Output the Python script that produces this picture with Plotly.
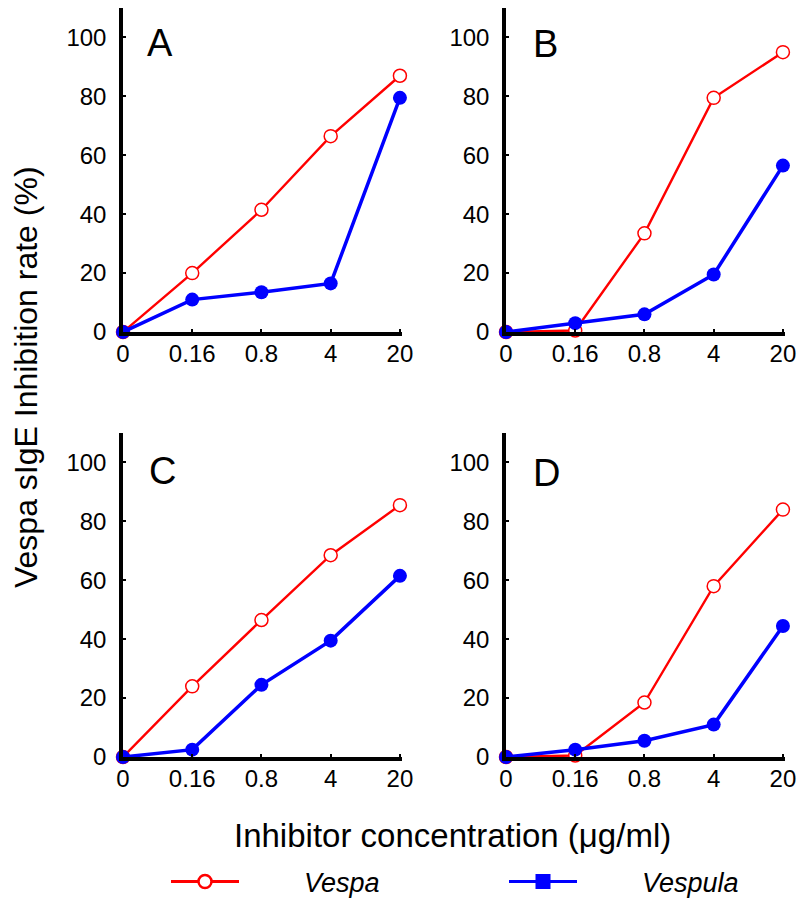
import plotly.graph_objects as go

concentrations = ["0", "0.16", "0.8", "4", "20"]
panels = ["A", "B", "C", "D"]

vespa_A = [0, 20, 41.5, 66.5, 87]
vespula_A = [0, 11, 13.5, 16.5, 79.5]
vespa_B = [0, 0.5, 33.5, 79.5, 95]
vespula_B = [0, 3, 6, 19.5, 56.5]
vespa_C = [0, 24, 46.5, 68.5, 85.5]
vespula_C = [0, 2.5, 24.5, 39.5, 61.5]
vespa_D = [0, 0.5, 18.5, 58, 84]
vespula_D = [0, 2.5, 5.5, 11, 44.5]

vespa = {"A": vespa_A, "B": vespa_B, "C": vespa_C, "D": vespa_D}
vespula = {"A": vespula_A, "B": vespula_B, "C": vespula_C, "D": vespula_D}

yticks = [0, 20, 40, 60, 80, 100]

W, H = 803, 901
RED = "#ff0000"
BLUE = "#0000ff"
TICKFONT = dict(family="Liberation Sans, Arial, sans-serif", size=24, color="black")

# panel geometry in pixels (left, right, top, bottom)
geom = {
    "A": (123, 402, 8, 332),
    "B": (506, 785, 8, 332),
    "C": (123, 402, 433, 757),
    "D": (506, 785, 433, 757),
}

fig = go.Figure()
layout = dict()
xidx = list(range(len(concentrations)))

for i, p in enumerate(panels):
    n = "" if i == 0 else str(i + 1)
    xa, ya = "x" + n, "y" + n
    l, r, t, b = geom[p]
    fig.add_trace(go.Scatter(
        x=xidx, y=vespa[p], xaxis=xa, yaxis=ya, mode="lines+markers",
        line=dict(color=RED, width=2.4),
        marker=dict(symbol="circle", size=13, color="white", line=dict(color=RED, width=1.5)),
        cliponaxis=False, showlegend=False, name="Vespa"))
    fig.add_trace(go.Scatter(
        x=xidx, y=vespula[p], xaxis=xa, yaxis=ya, mode="lines+markers",
        line=dict(color=BLUE, width=3.5),
        marker=dict(symbol="circle", size=14, color=BLUE, line=dict(width=0)),
        cliponaxis=False, showlegend=False, name="Vespula"))
    layout["xaxis" + n] = dict(
        domain=[l / W, r / W], anchor=ya, range=[0, 4.03],
        tickvals=xidx, ticktext=concentrations, tickfont=TICKFONT,
        showline=True, linecolor="black", linewidth=3.5, mirror=False,
        ticks="inside", ticklen=3, tickwidth=2, tickcolor="black",
        ticklabelstandoff=-3, showgrid=False, zeroline=False, fixedrange=True)
    layout["yaxis" + n] = dict(
        domain=[1 - b / H, 1 - t / H], anchor=xa, range=[0, 110],
        tickvals=yticks, tickfont=TICKFONT,
        showline=True, linecolor="black", linewidth=3.5,
        ticks="inside", ticklen=3, tickwidth=2, tickcolor="black",
        ticklabelstandoff=8, showgrid=False, zeroline=False, fixedrange=True)

# legend entries
fig.add_trace(go.Scatter(
    x=[None], y=[None], mode="lines+markers", name="\u00a0" * 8 + "Vespa",
    line=dict(color=RED, width=3),
    marker=dict(symbol="circle", size=13, color="white", line=dict(color=RED, width=2.5))))
fig.add_trace(go.Scatter(
    x=[None], y=[None], mode="lines+markers", name="\u00a0" * 8 + "Vespula",
    line=dict(color=BLUE, width=3),
    marker=dict(symbol="square", size=15, color=BLUE, line=dict(width=0))))

letters = {"A": (145, 43), "B": (531, 44), "C": (147, 471), "D": (531, 473)}
annotations = []
for p, (lx, ly) in letters.items():
    annotations.append(dict(
        text=p, x=lx / W, y=1 - ly / H, xref="paper", yref="paper",
        xanchor="left", yanchor="middle", showarrow=False,
        font=dict(family="Liberation Sans, Arial, sans-serif", size=38, color="black")))

annotations.append(dict(
    text="Inhibitor concentration (\u03bcg/ml)", x=452 / W, y=1 - 835 / H,
    xref="paper", yref="paper", xanchor="center", yanchor="middle", showarrow=False,
    font=dict(family="Liberation Sans, Arial, sans-serif", size=33, color="black")))
annotations.append(dict(
    text="Vespa sIgE Inhibition rate (%)", x=26 / W, y=1 - 377 / H, textangle=-90,
    xref="paper", yref="paper", xanchor="center", yanchor="middle", showarrow=False,
    font=dict(family="Liberation Sans, Arial, sans-serif", size=32, color="black")))

fig.update_layout(
    **layout,
    width=W, height=H,
    margin=dict(l=0, r=0, t=0, b=0, autoexpand=False),
    paper_bgcolor="white", plot_bgcolor="white",
    annotations=annotations,
    showlegend=True,
    legend=dict(
        orientation="h", x=166 / W, xanchor="left", y=1 - 882 / H, yanchor="middle",
        itemwidth=68, entrywidth=255, entrywidthmode="pixels",
        font=dict(family="Liberation Sans, Arial, sans-serif", size=27, color="black", style="italic"),
        bgcolor="rgba(0,0,0,0)", borderwidth=0, itemclick=False, itemdoubleclick=False),
)

fig.write_html(
    "out.html",
    config={"displayModeBar": False},
    post_script="document.body.style.margin='0';document.body.style.overflow='hidden';",
)
